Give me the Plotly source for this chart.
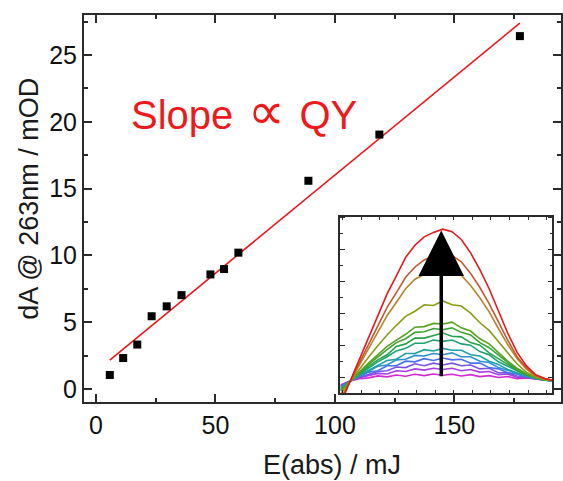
import numpy as np
import plotly.graph_objects as go

# Absorbed pulse energy and the resulting absorbance change at 263 nm
energy_mj = [5.8, 11.4, 17.3, 23.3, 29.6, 35.8, 47.9, 53.6, 59.6, 88.9, 118.6, 177.4]
dA_mod = [1.05, 2.32, 3.33, 5.45, 6.19, 7.03, 8.58, 8.98, 10.21, 15.59, 19.05, 26.42]

# Difference spectra for the inset (wavelength in nm, dA in mOD)
wavelength_nm = [209, 214, 219, 224, 229, 234, 239, 244, 249, 254, 259, 264,
                 269, 274, 279, 284, 289, 294, 299, 304, 309, 314, 319, 324]
spectra = [
    [-1.1, -0.5, -0.13, 0.0, 0.3, 0.15, 0.45, 0.25, 0.55, 0.35, 0.6, 0.4,
     0.55, 0.3, 0.5, 0.2, 0.35, 0.05, 0.2, -0.15, 0.0, -0.18, -0.39, -0.5],
    [-1.2, -0.5, 0.0, 0.3, 0.7, 0.6, 1.1, 1.0, 1.4, 1.2, 1.5, 1.3,
     1.5, 1.1, 1.3, 0.9, 1.0, 0.5, 0.6, 0.1, 0.15, -0.16, -0.38, -0.49],
    [-1.3, -0.51, 0.1, 0.5, 1.0, 1.1, 1.7, 1.6, 2.2, 1.9, 2.3, 2.0,
     2.3, 1.9, 2.0, 1.4, 1.5, 0.8, 0.8, 0.3, 0.2, -0.13, -0.37, -0.49],
    [-1.4, -0.51, 0.2, 0.9, 1.1, 1.9, 1.9, 2.6, 2.5, 3.0, 2.7, 3.1,
     2.8, 2.9, 2.3, 2.3, 1.6, 1.4, 0.8, 0.6, 0.1, -0.11, -0.36, -0.49],
    [-1.5, -0.52, 0.3, 1.0, 1.8, 2.0, 2.8, 2.9, 3.5, 3.4, 3.8, 3.6,
     3.9, 3.3, 3.3, 2.6, 2.4, 1.6, 1.2, 0.66, 0.23, -0.09, -0.35, -0.48],
    [-1.6, -0.52, 0.4, 1.2, 1.9, 2.7, 2.9, 3.8, 3.8, 4.4, 4.2, 4.6,
     4.3, 4.3, 3.6, 3.4, 2.6, 2.1, 1.3, 0.78, 0.29, -0.06, -0.34, -0.48],
    [-1.8, -0.53, 0.56, 1.6, 2.5, 3.3, 4.2, 4.6, 5.4, 5.4, 5.9, 5.7,
     5.9, 5.3, 5.1, 4.1, 3.6, 2.5, 1.8, 1.0, 0.41, -0.02, -0.32, -0.47],
    [-1.9, -0.53, 0.7, 1.8, 2.8, 3.6, 4.9, 5.3, 6.2, 6.2, 6.6, 7.0,
     6.5, 6.4, 5.5, 5.1, 3.9, 3.0, 2.1, 1.2, 0.49, 0.0, -0.3, -0.47],
    [-2.0, -0.53, 0.8, 2.1, 3.3, 4.4, 5.5, 6.1, 7.1, 7.2, 7.7, 7.5,
     7.8, 7.1, 6.7, 5.5, 4.7, 3.5, 2.4, 1.3, 0.57, 0.03, -0.3, -0.47],
    [-2.1, -0.54, 0.9, 2.3, 3.6, 4.9, 5.9, 6.8, 7.9, 8.0, 8.5, 8.4,
     8.7, 7.8, 7.3, 6.1, 5.3, 3.9, 2.6, 1.5, 0.64, 0.06, -0.3, -0.46],
    [-2.5, -0.55, 1.3, 3.2, 5.0, 6.7, 8.2, 9.6, 10.4, 11.4, 11.3, 12.0,
     11.4, 11.2, 10.1, 8.6, 7.4, 5.6, 3.9, 2.2, 0.9, 0.15, -0.25, -0.45],
    [-3.2, -0.6, 2.0, 4.7, 7.2, 9.7, 11.8, 13.9, 15.4, 16.1, 16.9, 17.2,
     16.9, 16.0, 14.4, 12.5, 10.3, 7.7, 5.2, 3.0, 1.4, 0.3, -0.2, -0.4],
    [-3.5, -0.6, 2.3, 5.3, 8.1, 11.0, 13.3, 15.7, 17.3, 18.4, 19.0, 19.4,
     19.1, 18.1, 16.3, 14.1, 11.6, 8.7, 5.9, 3.3, 1.6, 0.4, -0.15, -0.4],
    [-4.0, -0.6, 2.8, 6.3, 9.7, 13.1, 15.9, 18.8, 20.7, 22.0, 22.7, 23.2,
     22.8, 21.6, 19.5, 16.9, 13.9, 10.4, 7.0, 4.0, 1.9, 0.5, -0.1, -0.4],
]
spectra_colors = ["#d22ad0", "#a43ee2", "#7c52e6", "#4a70e6", "#2e8fd2", "#1fa0a6",
                  "#1ea276", "#26a24a", "#3ca232", "#5aa222", "#8c9a18", "#b5852a",
                  "#c8562e", "#e3191c"]

# Arrow marking the growth of the band with increasing energy
arrow_nm = 263.2
arrow_from_mod = 0.0
arrow_to_mod = 23.0

# Least-squares line through the data points
slope, intercept = np.polyfit(energy_mj, dA_mod, 1)
fit_x = [min(energy_mj), max(energy_mj)]
fit_y = [slope * v + intercept for v in fit_x]

FONT = "Liberation Sans, Arial, sans-serif"
AXIS_COLOR = "#2b2b2b"

fig = go.Figure()

fig.add_trace(go.Scatter(x=fit_x, y=fit_y, mode="lines",
                         line=dict(color="#e8161c", width=1.6),
                         xaxis="x", yaxis="y", hoverinfo="skip"))
fig.add_trace(go.Scatter(x=energy_mj, y=dA_mod, mode="markers",
                         marker=dict(symbol="square", size=8, color="black"),
                         xaxis="x", yaxis="y"))

for spec, col in zip(spectra, spectra_colors):
    fig.add_trace(go.Scatter(x=wavelength_nm, y=spec, mode="lines",
                             line=dict(color=col, width=1.6),
                             xaxis="x2", yaxis="y2", hoverinfo="skip"))

main_axis = dict(
    ticks="inside", ticklen=8, tickwidth=1.5, tickcolor=AXIS_COLOR,
    showline=True, linewidth=2, linecolor=AXIS_COLOR, mirror="allticks",
    showgrid=False, zeroline=False,
    tickfont=dict(family=FONT, size=25, color="#111"),
)

inset_axis = dict(
    ticks="inside", tickwidth=1, tickcolor=AXIS_COLOR,
    showline=True, linewidth=1.5, linecolor=AXIS_COLOR, mirror="allticks",
    showgrid=False, zeroline=False, showticklabels=False,
)

fig.update_layout(
    width=563, height=481,
    margin=dict(l=84, r=0, t=15, b=79),
    paper_bgcolor="white", plot_bgcolor="white",
    showlegend=False,
    font=dict(family=FONT, color="#111"),
    xaxis=dict(main_axis, range=[-5.0, 194.6], tick0=0, dtick=50,
               minor=dict(dtick=25, ticks="inside", ticklen=4, tickwidth=1.5,
                          tickcolor=AXIS_COLOR),
               domain=[0, 1], anchor="y"),
    yaxis=dict(main_axis, range=[-0.97, 28.0], tick0=0, dtick=5,
               minor=dict(dtick=2.5, ticks="inside", ticklen=4, tickwidth=1.5,
                          tickcolor=AXIS_COLOR),
               domain=[0, 1], anchor="x"),
    xaxis2=dict(inset_axis, range=[208.7, 323.1], tick0=200, dtick=10, ticklen=4,
                domain=[0.537, 0.982], anchor="y2"),
    yaxis2=dict(inset_axis, range=[-2.44, 25.16], tick0=0, dtick=5, ticklen=5,
                minor=dict(dtick=2.5, ticks="inside", ticklen=3, tickwidth=1,
                           tickcolor=AXIS_COLOR),
                domain=[0.022, 0.479], anchor="x2"),
)

fig.add_annotation(x=14.0, y=20.85, xref="x", yref="y", xanchor="left", yanchor="middle",
                   text=("Slope \u200a<span style='font-family:DejaVu Sans;font-size:52px'>"
                         "\u221d</span> \u200aQY"),
                   showarrow=False,
                   font=dict(family=FONT, size=40, color="#ee1a1a"))

fig.add_annotation(x=0.5205, y=-0.164, xref="paper", yref="paper",
                   xanchor="center", yanchor="middle", text="E(abs) / mJ",
                   showarrow=False, font=dict(family=FONT, size=27, color="#1a1a1a"))
fig.add_annotation(x=-0.1159, y=0.5245, xref="paper", yref="paper",
                   xanchor="center", yanchor="middle", textangle=-90,
                   text="dA @ 263nm / mOD",
                   showarrow=False, font=dict(family=FONT, size=27, color="#1a1a1a"))

fig.add_annotation(x=arrow_nm, y=arrow_to_mod, xref="x2", yref="y2",
                   ax=arrow_nm, ay=arrow_from_mod, axref="x2", ayref="y2",
                   text="", showarrow=True, arrowhead=2, arrowsize=2.6,
                   arrowwidth=3.5, arrowcolor="black")

fig.write_html("out.html")
